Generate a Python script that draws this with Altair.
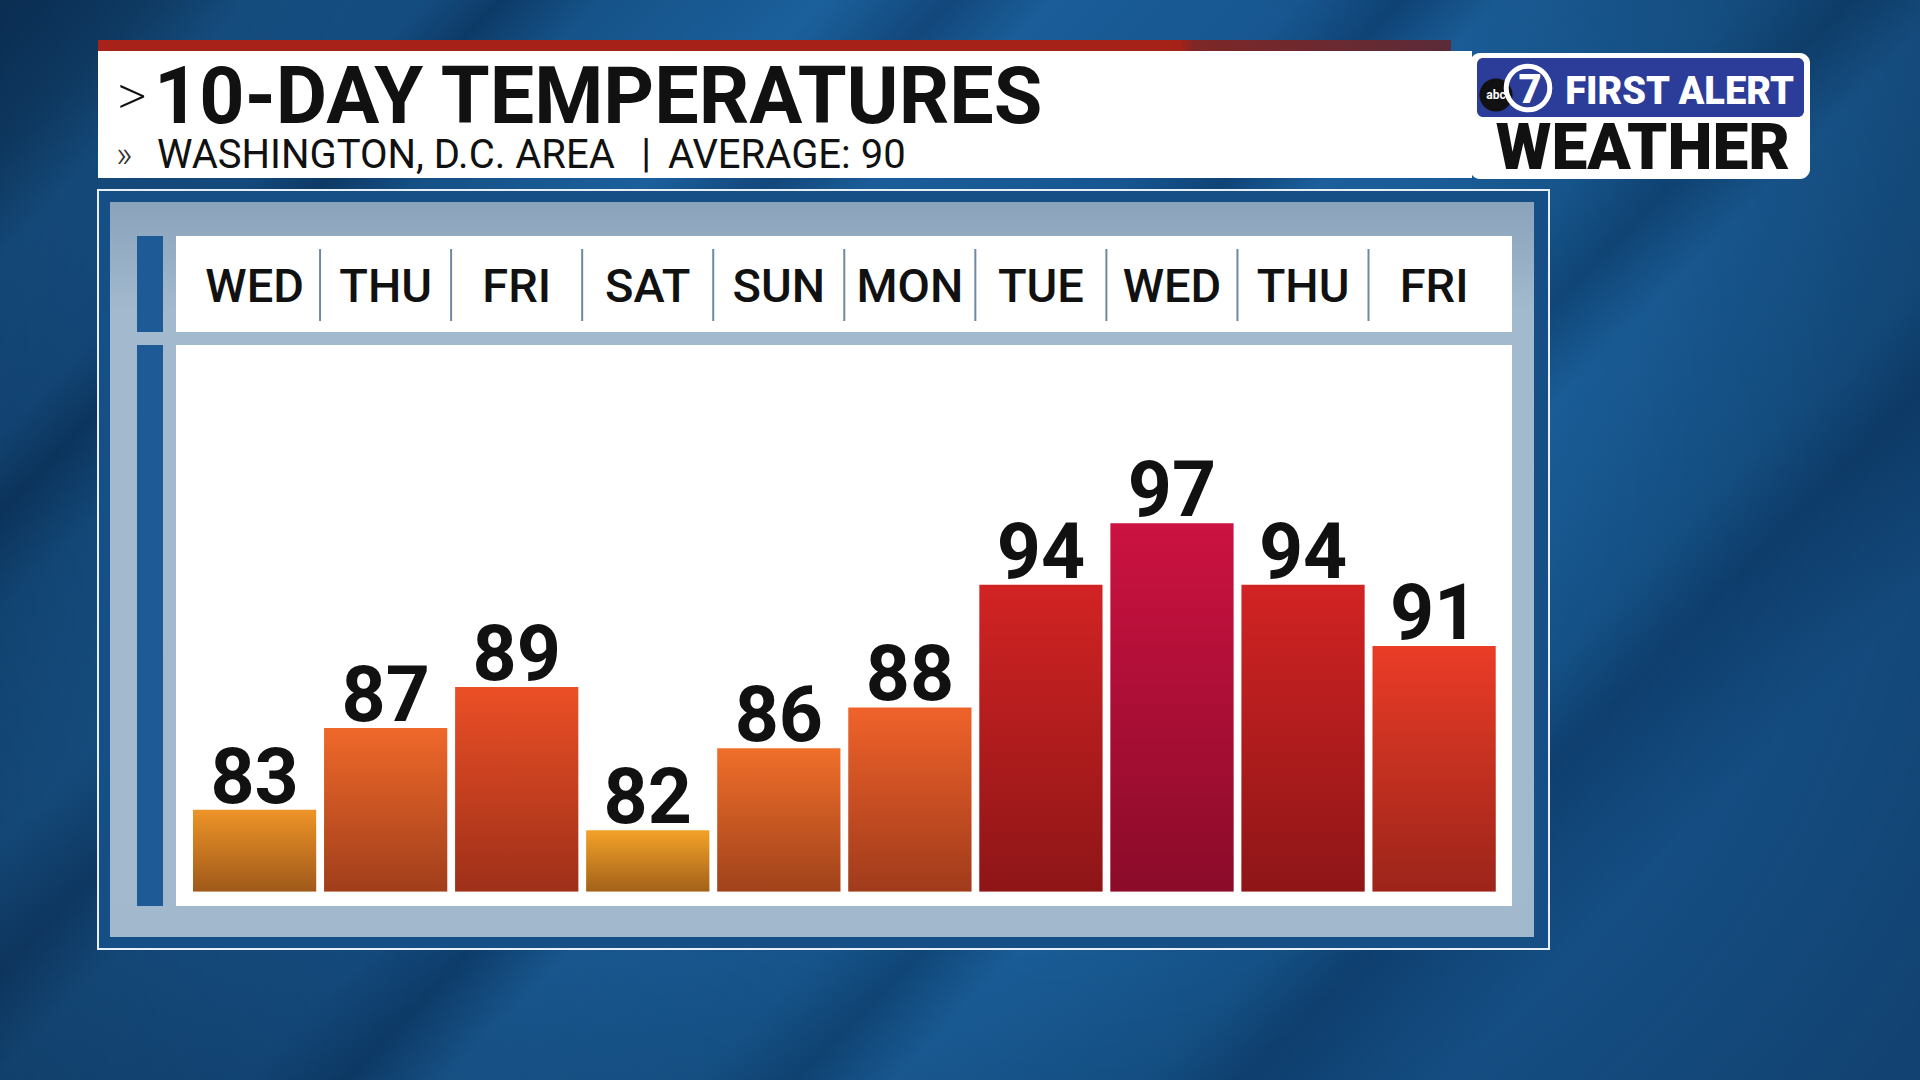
import altair as alt
import pandas as pd

# ---------------- data ----------------
days = ["WED", "THU", "FRI", "SAT", "SUN", "MON", "TUE", "WED", "THU", "FRI"]
temps = [83, 87, 89, 82, 86, 88, 94, 97, 94, 91]
title_text = "10-DAY TEMPERATURES"
subtitle_left = "WASHINGTON, D.C. AREA"
subtitle_right = "AVERAGE: 90"
color_domain = [82, 83, 86, 88, 89, 91, 94, 97]
color_range = ["#f4a228", "#ee9428", "#f06e2a", "#f0622a", "#ec4f26",
               "#ea3c27", "#d22323", "#cc1241"]
BASE = 79
Y_TOP = 100

df = pd.DataFrame({"idx": list(range(len(days))), "day": days, "temp": temps})
one = pd.DataFrame({"k": [0]})

FONT = "Roboto"


def grad(stops, x1=0, y1=0, x2=0, y2=1):
    return alt.Gradient(
        gradient="linear",
        stops=[alt.GradientStop(color=c, offset=o) for o, c in stops],
        x1=x1, y1=y1, x2=x2, y2=y2,
    )


def rect(x, x2, y, y2, **kw):
    return alt.Chart(one).mark_rect(**kw).encode(
        x=alt.value(x), x2=alt.value(x2), y=alt.value(y), y2=alt.value(y2)
    )


def text(t, x, y, **kw):
    kw.setdefault("baseline", "alphabetic")
    return alt.Chart(one).mark_text(text=t, font=FONT, **kw).encode(
        x=alt.value(x), y=alt.value(y)
    )


# ---------------- background ----------------
bg = rect(0, 1920, 0, 1080, fill=grad([
    (0.00, "#0d3a68"), (0.06, "#124878"), (0.10, "#1a5d98"), (0.17, "#175690"),
    (0.20, "#0e4070"), (0.24, "#175891"), (0.33, "#1b609c"), (0.38, "#12477b"),
    (0.42, "#1a5d98"), (0.52, "#175690"), (0.56, "#0f4477"), (0.60, "#1b5f9b"),
    (0.70, "#17578f"), (0.74, "#104779"), (0.78, "#1a5d98"), (0.88, "#155389"),
    (0.92, "#0f4274"), (1.00, "#175690")], x1=0, y1=0, x2=1, y2=0.55))
vignette = rect(0, 1920, 0, 1080, fill=alt.Gradient(
    gradient="radial", x1=0.55, y1=0.45, r1=0.25, x2=0.55, y2=0.45, r2=0.85,
    stops=[alt.GradientStop(color="rgba(5,20,40,0)", offset=0),
           alt.GradientStop(color="rgba(5,20,40,0.6)", offset=1)]))

# ---------------- header banner ----------------
red_strip = rect(98, 1451, 40, 51, fill=grad([
    (0.0, "#a72219"), (0.80, "#a52218"), (0.81, "#7e2727"), (1.0, "#5a2b38")],
    x1=0, y1=0, x2=1, y2=0))
banner = rect(98, 1472, 51, 178, color="#ffffff")
chev = text(">", 117, 115, fontSize=58, fontWeight=200, color="#111111", align="left")
title = text(title_text, 154, 123, fontSize=79, fontWeight="bold", color="#111111",
             align="left")
chev2 = text("»", 116, 167, fontSize=36, fontWeight=300, color="#333333", align="left")
sub_l = text(subtitle_left, 157, 168, fontSize=40, color="#111111", align="left")
sub_bar = text("|", 646, 167, fontSize=40, color="#111111", align="center")
sub_r = text(subtitle_right, 668, 168, fontSize=40, color="#111111", align="left")

# ---------------- logo ----------------
logo_box = rect(1470, 1810, 53, 179, color="#ffffff", cornerRadius=10)
logo_blue = rect(1477, 1804, 58, 117, color="#2b3c99", cornerRadius=6)
first_alert = text("FIRST ALERT", 1794, 104, fontSize=38, fontWeight=900,
                   color="#ffffff", align="right")
weather = text("WEATHER", 1790, 169, fontSize=64, fontWeight=900, color="#111111",
               align="right")
ring = alt.Chart(one).mark_point(shape="circle", filled=False, size=1900,
                                 strokeWidth=5, color="#ffffff", opacity=1).encode(
    x=alt.value(1528), y=alt.value(88))
seven = text("7", 1530, 103, fontSize=40, fontWeight=900, color="#ffffff")
abc_dot = alt.Chart(one).mark_circle(size=1100, color="#111111", opacity=1).encode(
    x=alt.value(1496), y=alt.value(95))
abc = text("abc", 1496, 99, fontSize=12, fontWeight="bold", color="#ffffff")

# ---------------- frame ----------------
frame_line = rect(98, 1549, 190, 949, fill="#164f86", stroke="#e8f0f6", strokeWidth=2)
panel = rect(110, 1534, 202, 937, fill=grad([
    (0.0, "#8aa3bb"), (0.15, "#a3bace"), (1.0, "#a2b9cd")]))
left_top = rect(137, 163, 236, 332, color="#1d5a96")
left_body = rect(137, 163, 345, 906, color="#1d5a96")
head_white = rect(176, 1512, 236, 332, color="#ffffff")
body_white = rect(176, 1512, 345, 906, color="#ffffff")

# ---------------- data marks ----------------
X = alt.X("idx:O", axis=None,
          scale=alt.Scale(range=[193, 1495.7], paddingInner=0.06, paddingOuter=0))
Y = alt.Y("temp:Q", axis=None,
          scale=alt.Scale(domain=[BASE, Y_TOP], range=[891.5, 462], zero=False, nice=False))

base = alt.Chart(df)
bars = base.mark_bar(opacity=1).encode(
    x=X, y=Y, y2=alt.datum(BASE),
    color=alt.Color("temp:Q", legend=None,
                    scale=alt.Scale(domain=color_domain, range=color_range)),
)
shade = base.mark_bar(fill=grad([(0.0, "rgba(40,0,5,0)"), (1.0, "rgba(40,0,5,0.40)")]),
                      opacity=1).encode(x=X, y=Y, y2=alt.datum(BASE))
values = base.mark_text(font=FONT, fontSize=77, fontWeight="bold", baseline="alphabetic",
                        dy=-7, color="#111111").encode(x=X, y=Y, text="temp:Q")
day_labels = base.mark_text(font=FONT, fontSize=47, fontWeight=500,
                            baseline="alphabetic", color="#111111").encode(
    x=X, y=alt.value(302), text="day:N")
seps = base.transform_filter("datum.idx > 0").mark_rule(
    color="#6d89a6", strokeWidth=2, xOffset=-4).encode(
    x=alt.X("idx:O", bandPosition=0, axis=None), y=alt.value(249), y2=alt.value(321))

chart = alt.layer(
    bg, vignette, red_strip, banner, chev, title, chev2, sub_l, sub_bar, sub_r,
    logo_box, logo_blue, first_alert, weather, abc_dot, ring, seven, abc,
    frame_line, panel, left_top, left_body, head_white, body_white,
    bars, shade, values, day_labels, seps,
).properties(width=1920, height=1080, padding=0, autosize="none"
).configure_view(stroke=None)

chart.save("out.html", embed_options={"renderer": "svg", "actions": False})
